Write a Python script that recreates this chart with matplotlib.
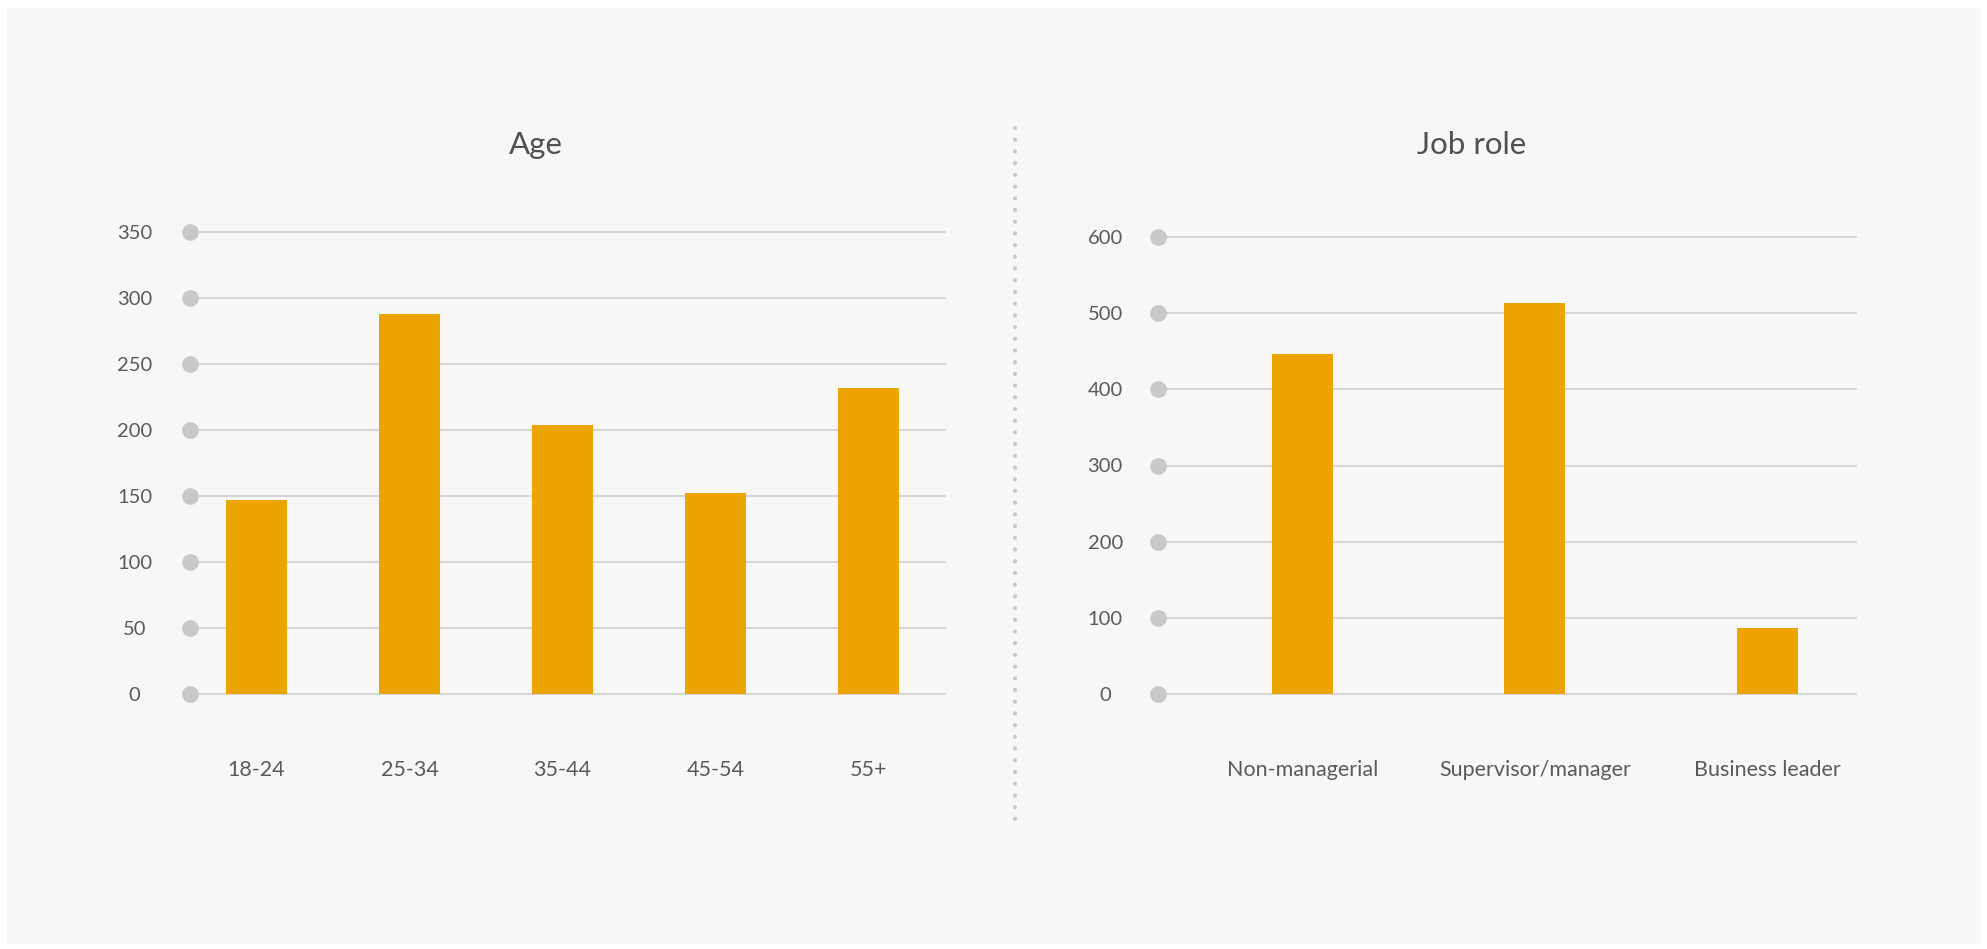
import matplotlib.pyplot as plt
from matplotlib.patches import Rectangle
from matplotlib.lines import Line2D

# data
age_groups = ["18-24", "25-34", "35-44", "45-54", "55+"]
age_counts = [147, 288, 204, 152, 232]
age_ticks = [0, 50, 100, 150, 200, 250, 300, 350]

job_roles = ["Non-managerial", "Supervisor/manager", "Business leader"]
job_counts = [446, 513, 87]
job_ticks = [0, 100, 200, 300, 400, 500, 600]

BAR_COLOR = "#eca400"
GRID_COLOR = "#d2d2d2"
DOT_COLOR = "#c8c8c8"
TEXT_COLOR = "#5a5a5a"
PANEL_COLOR = "#f7f7f7"

W, H = 1987, 949
plt.rcParams['font.family'] = ['Lato', 'DejaVu Sans']


def px_rect(x0, y0, x1, y1):
    """pixel box (top-left origin) -> figure fraction [l, b, w, h]"""
    return [x0 / W, 1 - y1 / H, (x1 - x0) / W, (y1 - y0) / H]


def draw_panel(ax, labels, values, ticks, xlim, width, label_pad):
    x = range(len(labels))
    ax.set_facecolor("none")
    ax.bar(x, values, width=width, color=BAR_COLOR, zorder=2)
    ax.set_xlim(*xlim)
    ax.set_ylim(ticks[0], ticks[-1])
    for t in ticks:
        ax.axhline(t, color=GRID_COLOR, lw=1.3, zorder=1, clip_on=False)
    ax.plot([xlim[0]] * len(ticks), ticks, 'o', color=DOT_COLOR,
            markersize=11, clip_on=False, zorder=3)
    for s in ax.spines.values():
        s.set_visible(False)
    ax.set_yticks(ticks)
    ax.set_yticklabels([str(t) for t in ticks])
    ax.set_xticks(list(x))
    ax.set_xticklabels(labels)
    ax.tick_params(axis='y', length=0, pad=label_pad, labelsize=14.5,
                   labelcolor=TEXT_COLOR)
    ax.tick_params(axis='x', length=0, pad=55, labelsize=15.5,
                   labelcolor=TEXT_COLOR)
    for lbl in ax.get_yticklabels():
        lbl.set_horizontalalignment('center')
    for lbl in ax.get_xticklabels():
        lbl.set_verticalalignment('center')
    return ax


fig = plt.figure(figsize=(W / 100, H / 100), dpi=100)
fig.patch.set_facecolor("white")
fig.add_artist(Rectangle((7 / W, 1 - 944 / H), 1974 / W, 936 / H,
                         transform=fig.transFigure, facecolor=PANEL_COLOR,
                         edgecolor="none", zorder=-5))

ax1 = fig.add_axes(px_rect(190, 232, 945, 694))
draw_panel(ax1, age_groups, age_counts, age_ticks, (-0.435, 4.5), 0.4, 40)

ax2 = fig.add_axes(px_rect(1158, 237, 1856, 694))
draw_panel(ax2, job_roles, job_counts, job_ticks, (-0.62, 2.38), 0.262, 38)

fig.text(536 / W, 1 - 145 / H, "Age", ha='center', va='center',
         fontsize=22.5, color="#505050")
fig.text(1472 / W, 1 - 145 / H, "Job role", ha='center', va='center',
         fontsize=22.5, color="#505050")

# dotted divider
fig.add_artist(Line2D([1015 / W, 1015 / W], [1 - 128 / H, 1 - 825 / H],
                      transform=fig.transFigure, color=DOT_COLOR, lw=3,
                      linestyle=(0, (0.01, 2.8)), dash_capstyle='round'))

fig.savefig("out.png", dpi=100)
